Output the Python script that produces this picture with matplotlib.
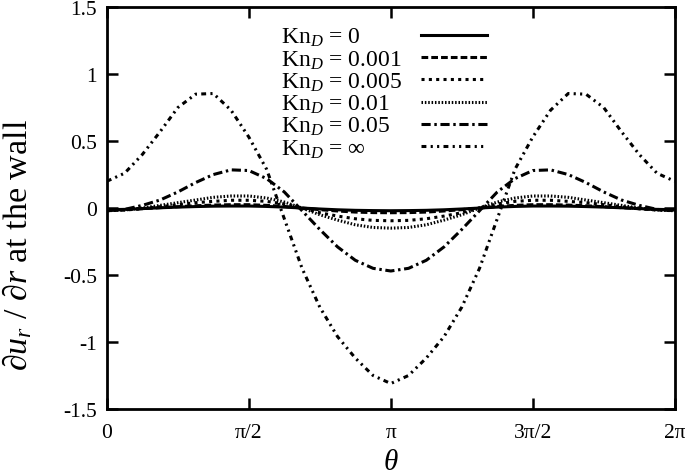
import numpy as np
import matplotlib
matplotlib.use("Agg")
import matplotlib.pyplot as plt
from matplotlib.transforms import IdentityTransform

# theta sampled every pi/16 on [0, 2pi]
theta = np.arange(33) * np.pi / 16.0

# du_r/dr at the wall
kn0 = [-0.012, -0.010, -0.004, 0.002, 0.007, 0.011, 0.014, 0.015, 0.015,
       0.012, 0.007, 0.000, -0.007, -0.013, -0.017, -0.019, -0.020,
       -0.019, -0.017, -0.013, -0.007, 0.000, 0.007, 0.012, 0.015,
       0.015, 0.014, 0.011, 0.007, 0.002, -0.004, -0.010, -0.012]
kn0001 = [-0.015, -0.012, -0.005, 0.003, 0.010, 0.017, 0.022, 0.025, 0.025,
          0.020, 0.012, 0.000, -0.012, -0.022, -0.030, -0.034, -0.035,
          -0.034, -0.030, -0.022, -0.012, 0.000, 0.012, 0.020, 0.025,
          0.025, 0.022, 0.017, 0.010, 0.003, -0.005, -0.012, -0.015]
kn0005 = [-0.020, -0.015, -0.005, 0.010, 0.025, 0.040, 0.050, 0.058, 0.058,
          0.050, 0.030, 0.000, -0.035, -0.060, -0.080, -0.092, -0.095,
          -0.092, -0.080, -0.060, -0.035, 0.000, 0.030, 0.050, 0.058,
          0.058, 0.050, 0.040, 0.025, 0.010, -0.005, -0.015, -0.020]
kn001 = [-0.020, -0.015, 0.000, 0.020, 0.040, 0.060, 0.080, 0.090, 0.090,
         0.075, 0.045, 0.000, -0.050, -0.090, -0.125, -0.145, -0.150,
         -0.145, -0.125, -0.090, -0.050, 0.000, 0.045, 0.075, 0.090,
         0.090, 0.080, 0.060, 0.040, 0.020, 0.000, -0.015, -0.020]
kn005 = [-0.020, -0.010, 0.020, 0.060, 0.120, 0.190, 0.250, 0.285, 0.280,
         0.220, 0.120, -0.020, -0.160, -0.290, -0.390, -0.450, -0.470,
         -0.450, -0.390, -0.290, -0.160, -0.020, 0.120, 0.220, 0.280,
         0.285, 0.250, 0.190, 0.120, 0.060, 0.020, -0.010, -0.020]
kninf = [0.200, 0.260, 0.400, 0.570, 0.750, 0.850, 0.855, 0.730, 0.530,
         0.290, -0.080, -0.450, -0.740, -0.960, -1.120, -1.250, -1.310,
         -1.250, -1.120, -0.960, -0.740, -0.450, -0.080, 0.290, 0.530,
         0.730, 0.855, 0.850, 0.750, 0.570, 0.400, 0.260, 0.200]

labels = ["Kn$_{D}$ = 0", "Kn$_{D}$ = 0.001", "Kn$_{D}$ = 0.005",
          "Kn$_{D}$ = 0.01", "Kn$_{D}$ = 0.05", "Kn$_{D}$ = \u221e"]
series = [kn0, kn0001, kn0005, kn001, kn005, kninf]
dashes = [None, (2.2, 1.0), (1.0, 1.4), (0.5, 0.6), (3.0, 1.2, 0.8, 1.2),
          (1.6, 1.4, 0.7, 1.4, 0.7, 1.4)]

xticks = [0, np.pi / 2, np.pi, 3 * np.pi / 2, 2 * np.pi]
xticklabels = ["0", "\u03c0/2", "\u03c0", "3\u03c0/2", "2\u03c0"]
yticks = [-1.5, -1, -0.5, 0, 0.5, 1, 1.5]
yticklabels = ["-1.5", "-1", "-0.5", "0", "0.5", "1", "1.5"]

plt.rcParams["font.family"] = ["Liberation Serif", "DejaVu Serif"]
plt.rcParams["mathtext.fontset"] = "custom"
plt.rcParams["mathtext.rm"] = "Liberation Serif"
plt.rcParams["mathtext.it"] = "Liberation Serif:italic"
plt.rcParams["font.size"] = 15.5

fig = plt.figure(figsize=(6.85, 4.77), dpi=100)
ax = fig.add_axes([0.156, 0.1405, 0.829, 0.8425])

for vals, lab, ds in zip(series, labels, dashes):
    line, = ax.plot(theta, vals, color="k", lw=2.2, label=lab)
    if ds is not None:
        line.set_dashes(ds)

ax.set_xlim(0, 2 * np.pi)
ax.set_ylim(-1.5, 1.5)
ax.set_xticks(xticks)
ax.set_xticklabels(xticklabels)
ax.set_yticks(yticks)
ax.set_yticklabels(yticklabels)
ax.tick_params(direction="in", length=8, width=1.8, top=True, right=True)
ax.tick_params(axis="x", pad=10)
ax.tick_params(axis="y", pad=7)
for sp in ax.spines.values():
    sp.set_linewidth(2)

ax.set_xlabel(r"$\theta$", fontsize=21, labelpad=5)
ax.set_ylabel("\u2202$u_r$ / \u2202$r$ at the wall", fontsize=24.5)
ax.yaxis.set_label_coords(-0.128, 0.41)

leg = ax.legend(loc="upper left", bbox_to_anchor=(0.273, 1.0), frameon=False,
                markerfirst=False, handlelength=2.8, handletextpad=0.8,
                labelspacing=0.0, borderaxespad=0.4, fontsize=17)

# gnuplot style key: labels left aligned, samples on the right
fig.canvas.draw()
texts = leg.get_texts()
x_left = min(t.get_window_extent().x0 for t in texts)
for t in texts:
    xb, yb = t.get_transform().transform(t.get_position())
    fig.text(x_left, yb, t.get_text(), fontsize=17, ha="left", va="baseline",
             transform=IdentityTransform())
    t.set_visible(False)

fig.savefig("out.png", dpi=100)
